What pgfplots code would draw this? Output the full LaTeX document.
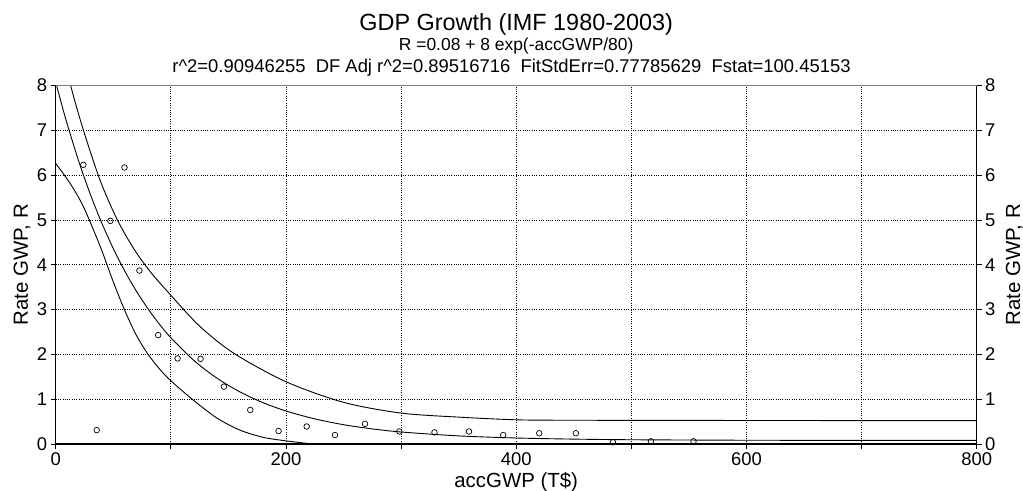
\documentclass[border=0pt]{standalone}
\usepackage{pgfplots}
\pgfplotsset{compat=1.18}
\usepackage{fontspec}
\setmainfont{Liberation Sans}

\newcommand\tickfont{\fontsize{18.5}{20}\selectfont}
\newcommand\labfont{\fontsize{20.5}{23}\selectfont}

\pgfplotsset{
  gdpaxis/.style={
    scale only axis, width=921bp, height=358.5bp,
    xmin=0, xmax=800, ymin=0, ymax=8,
    ytick={0,1,...,8},
    tick align=outside, major tick length=5bp,
    tick style={black, line width=0.8bp},
    ticklabel style={font=\tickfont},
    /pgf/number format/assume math mode=true,
    axis line style={black, line width=1.1bp},
  }
}

\begin{document}
\begin{tikzpicture}
\path[use as bounding box] (-55.7bp,-47bp) rectangle (967.3bp,444bp);

\begin{axis}[gdpaxis,
  axis x line*=bottom, axis y line*=left,
  xtick={0,100,...,800}, xticklabels={0,,200,,400,,600,,800},
  grid=major,
  grid style={black, line width=0.7bp, dash pattern=on 1bp off 1.3bp},
  xlabel={accGWP (T\$)}, ylabel={Rate GWP, R},
  every axis x label/.style={at={(rel axis cs:0.5,0)}, yshift=-43bp, anchor=base, font=\labfont},
  every axis y label/.style={at={(rel axis cs:0,0.5)}, xshift=-27.7bp, rotate=90, anchor=base, font=\labfont},
  clip mode=individual,
]
% upper band
\addplot[black, line width=0.9bp, smooth] coordinates {
  (0,9.4) (13,8.0) (24,7.01) (38.5,5.89) (53,5.03) (67.5,4.37) (82,3.85)
  (100,3.32) (125,2.63) (155,2.02) (200,1.39) (250,0.93) (300,0.69)
  (350,0.60) (400,0.54) (450,0.53) (600,0.525) (800,0.52)
};
% fit R = 0.08 + 8 exp(-accGWP/80)
\addplot[black, line width=0.9bp, smooth] coordinates {
  (0,8.08) (5,7.595) (10,7.140) (20,6.310) (30,5.578) (40,4.932)
  (50,4.362) (60,3.859) (70,3.415) (80,3.023) (90,2.677) (100,2.372)
  (120,1.865) (140,1.470) (160,1.163) (180,0.923) (200,0.737)
  (225,0.561) (250,0.431) (275,0.337) (300,0.268) (350,0.181)
  (400,0.134) (450,0.109) (500,0.095) (600,0.084) (700,0.081) (800,0.080)
};
% lower band
\addplot[black, line width=0.9bp, smooth] coordinates {
  (0,6.26) (12.4,5.82) (24,5.30) (38.5,4.42) (50,3.62) (60,2.98)
  (70,2.43) (80,2.01) (90,1.68) (100,1.41) (120,0.97) (140,0.58)
  (160,0.31) (180,0.15) (200,0.07) (220,0.01) (240,-0.04)
};
% data
\addplot[only marks, mark=o, mark size=2.8bp, black, mark options={line width=0.7bp}] coordinates {
  (24.0,6.23) (35.6,0.31) (47.5,4.98) (59.7,6.17) (72.7,3.87) (89.0,2.43)
  (105.9,1.91) (125.8,1.90) (146.1,1.28) (169.0,0.76) (193.6,0.29)
  (218.0,0.39) (242.6,0.20) (268.7,0.45) (298.5,0.28) (329.0,0.26)
  (359.0,0.28) (388.7,0.20) (420.0,0.24) (451.8,0.24) (484.0,0.04)
  (517.0,0.06) (554.0,0.06)
};
\draw[gray, line width=1.8bp] (rel axis cs:0,1) -- (rel axis cs:1,1);
\node[anchor=base, yshift=55.5bp, font=\fontsize{23.5}{26}\selectfont]
  at (rel axis cs:0.5,1) {GDP Growth (IMF 1980-2003)};
\node[anchor=base, yshift=35.3bp, font=\fontsize{17.5}{20}\selectfont]
  at (rel axis cs:0.5,1) {R =0.08 + 8 exp(-accGWP/80)};
\node[anchor=base, yshift=13bp, xshift=-4.7bp, font=\fontsize{18.5}{20}\selectfont]
  at (rel axis cs:0.5,1) {r\textasciicircum 2=0.90946255\ \ DF Adj r\textasciicircum 2=0.89516716\ \ FitStdErr=0.77785629\ \ Fstat=100.45153};
\end{axis}

\begin{axis}[gdpaxis,
  axis x line=none, axis y line*=right,
  ylabel={Rate GWP, R},
  every axis y label/.style={at={(rel axis cs:1,0.5)}, xshift=43.3bp, rotate=90, anchor=base, font=\labfont},
]
\end{axis}
\end{tikzpicture}
\end{document}
